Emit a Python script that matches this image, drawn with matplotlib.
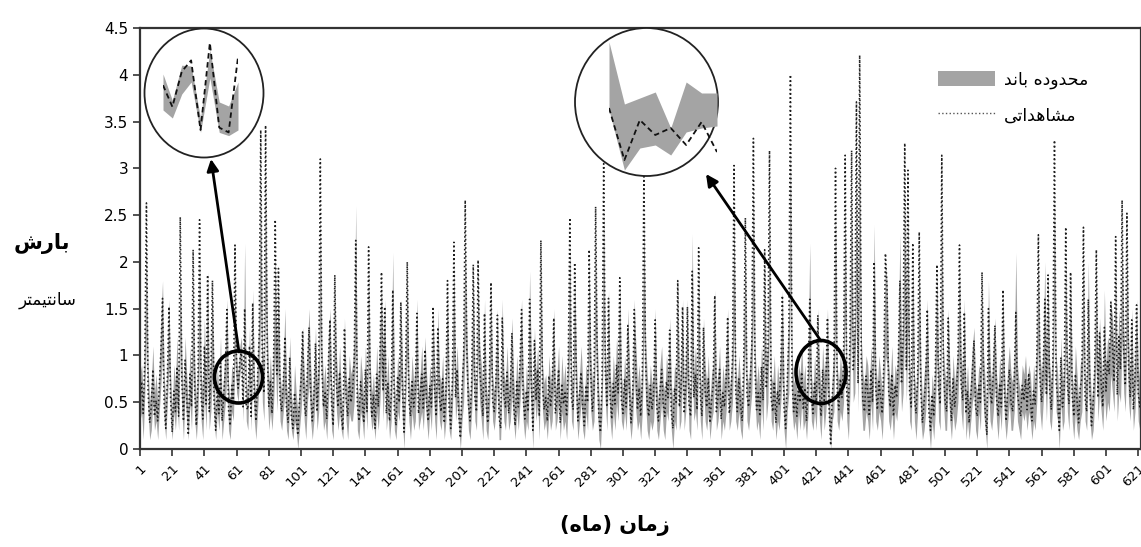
import matplotlib
matplotlib.use("Agg")
import matplotlib.pyplot as plt
from matplotlib.patches import Ellipse, Patch, FancyArrowPatch
from matplotlib.lines import Line2D
import numpy as np

# ---------------- data (monthly precipitation, cm) ----------------
observed = [
 0.55,0.72,0.38,0.95,2.63,0.62,0.28,0.45,0.85,0.35,0.52,0.30,
 0.68,1.05,1.61,0.48,0.22,0.76,1.52,0.55,0.18,0.62,0.40,0.88,
 0.35,2.48,0.72,0.30,0.95,0.58,0.15,0.80,0.45,2.13,0.62,0.25,
 0.70,2.45,0.55,0.32,1.10,0.48,1.86,0.40,0.78,1.80,0.52,0.20,
 0.65,0.38,0.92,0.30,0.58,0.85,1.49,0.42,0.25,0.68,0.50,2.18,
 0.85,0.65,0.95,1.05,0.45,1.50,0.45,0.42,1.10,0.35,1.56,0.58,
 0.30,0.75,1.20,3.41,0.85,0.60,3.46,1.10,0.45,0.72,0.38,0.95,
 2.45,0.80,1.93,0.55,0.40,0.68,1.20,0.45,0.28,0.98,0.35,0.22,
 0.60,0.38,0.15,0.48,0.72,1.25,0.50,0.35,0.85,1.30,0.62,0.30,
 0.55,1.13,0.40,0.78,3.10,0.85,0.45,0.60,0.32,0.92,1.38,0.48,
 0.25,1.86,0.70,0.45,0.82,0.38,0.20,1.29,0.55,0.35,0.75,0.50,
 0.62,0.90,2.23,0.48,0.30,0.72,0.55,0.28,0.85,0.40,2.16,0.65,
 0.35,0.58,0.22,0.80,0.45,0.95,1.89,0.62,1.52,0.38,0.70,0.30,
 0.55,1.70,0.42,0.25,0.78,0.50,1.57,0.65,0.18,0.88,2.00,0.52,
 0.35,0.72,0.45,0.60,1.45,0.38,0.55,0.80,0.42,1.06,0.50,0.30,
 0.68,0.45,1.52,0.62,0.35,1.30,0.55,0.40,0.75,0.28,0.60,1.80,
 0.45,0.22,0.70,2.21,0.55,0.85,0.38,0.12,0.65,0.95,2.66,1.05,
 0.48,0.30,0.72,1.97,0.55,0.40,2.02,0.85,0.62,0.35,1.45,0.48,
 0.28,0.75,1.78,0.52,0.40,0.68,1.43,0.35,0.22,1.40,0.58,0.45,
 0.82,0.38,0.60,1.24,0.50,0.25,0.72,0.45,0.90,1.49,0.55,0.32,
 0.62,0.40,1.60,0.75,0.20,1.16,0.52,0.85,0.35,2.23,0.68,0.42,
 0.55,0.30,0.78,0.45,0.62,1.40,0.38,0.52,0.85,0.28,0.70,0.48,
 0.60,0.35,0.92,2.47,0.55,0.42,1.99,0.75,0.30,0.58,0.82,0.45,
 0.25,0.68,0.50,2.13,0.78,0.40,0.62,2.59,0.95,0.35,0.18,0.72,
 3.05,0.85,0.45,1.61,0.55,0.32,0.70,0.48,0.90,0.60,1.83,0.52,
 0.38,0.75,0.45,1.32,0.62,0.28,0.55,1.49,0.80,0.42,0.65,0.35,
 0.72,2.98,0.95,0.50,0.35,0.68,0.42,0.58,1.38,0.45,0.30,0.62,
 0.85,0.48,0.35,0.72,0.55,1.27,0.40,0.22,0.65,0.50,1.80,0.45,
 0.62,1.52,0.38,0.70,1.52,0.48,0.35,1.90,0.55,0.80,0.42,2.15,
 0.58,0.35,1.30,0.62,0.45,0.75,0.28,0.52,0.68,1.64,0.40,0.55,
 0.85,0.32,0.60,0.45,0.72,1.41,0.38,0.55,0.95,3.03,0.62,0.40,
 0.75,0.48,0.30,0.92,2.47,0.58,0.45,0.70,1.10,3.32,0.85,0.42,
 0.60,0.35,0.88,0.52,2.13,0.65,0.95,3.19,0.55,0.40,0.72,0.28,
 0.62,0.48,0.85,1.64,0.45,0.22,0.70,1.20,4.00,0.75,0.40,0.58,
 0.35,0.68,0.50,0.82,0.42,0.65,0.30,0.78,1.60,0.55,0.38,0.72,
 0.48,1.43,0.62,0.35,0.85,0.52,0.70,1.40,0.45,0.04,0.58,0.80,
 3.00,0.65,0.42,0.75,0.55,0.90,3.14,0.60,0.38,1.20,3.19,0.85,
 1.10,3.71,0.70,4.21,0.95,0.52,0.40,0.78,0.62,0.35,0.85,0.50,
 2.00,0.65,0.42,0.72,0.55,0.38,0.90,2.09,1.73,0.62,0.45,0.80,
 0.35,0.68,0.55,0.95,1.80,0.70,1.20,3.27,0.85,2.98,0.62,0.45,
 2.20,0.55,0.38,0.75,2.32,0.62,0.28,0.50,0.72,1.49,0.40,0.20,
 0.58,0.35,0.80,1.97,0.65,0.48,3.14,0.85,0.52,0.40,1.40,0.62,
 0.30,0.75,0.45,0.60,0.88,2.18,0.70,0.52,1.46,0.38,0.62,0.28,
 0.55,0.82,1.16,0.45,0.35,0.68,0.50,1.89,0.72,0.40,0.15,1.50,
 0.62,0.48,0.80,1.32,0.55,0.35,0.70,0.45,1.70,0.58,0.30,0.65,
 0.85,0.50,0.40,0.72,1.46,0.60,0.45,0.35,0.68,0.52,0.75,0.42,
 0.81,0.55,0.30,0.62,0.48,0.95,2.29,0.75,0.50,0.85,1.60,0.58,
 1.86,0.65,0.42,0.90,3.30,0.72,0.55,0.20,0.98,0.45,0.62,2.37,
 0.70,0.48,1.89,0.58,0.35,0.80,0.52,0.28,0.65,0.75,2.37,0.55,
 0.40,1.60,0.62,0.25,0.48,0.85,2.13,0.55,1.24,0.70,0.45,1.30,
 0.62,0.95,0.80,1.57,1.10,0.72,2.27,0.58,1.20,0.85,2.66,1.05,
 0.68,2.52,0.90,0.55,1.38,0.42,0.75,1.54,0.60,0.45,0.70,0.55,
]

band_upper = [
 0.8,0.9,0.6,1.3,2.2,0.9,0.5,0.7,1.1,0.6,0.8,0.5,
 0.9,1.4,1.8,0.8,0.5,1.0,1.6,0.8,0.4,0.9,0.7,1.2,
 0.6,2.0,1.0,0.5,1.2,0.8,0.4,1.1,0.7,1.8,0.9,0.5,
 1.0,2.1,0.8,0.6,1.4,0.7,1.9,0.7,1.0,1.7,0.8,0.4,
 0.9,0.6,1.2,0.5,0.8,1.1,1.6,0.7,0.5,0.9,0.8,1.9,
 1.0,0.8,1.1,1.2,0.6,2.2,0.7,0.6,1.3,0.6,1.7,0.8,
 0.5,1.0,1.5,2.9,1.1,0.9,3.0,1.4,0.7,1.0,0.6,1.2,
 2.1,1.1,1.8,0.8,0.6,0.9,1.5,0.7,0.5,1.2,0.6,0.4,
 0.9,0.6,0.4,0.7,1.0,1.3,0.8,0.6,1.1,1.5,0.9,0.5,
 0.8,1.3,0.7,1.0,2.5,1.1,0.7,0.9,0.5,1.2,1.5,0.7,
 0.5,1.8,1.0,0.7,1.1,0.6,0.4,1.4,0.8,0.6,1.0,0.8,
 0.9,1.2,2.6,0.7,0.5,1.0,0.8,0.5,1.1,0.7,2.0,0.9,
 0.6,0.8,0.5,1.1,0.7,1.3,1.8,0.9,1.6,0.6,1.0,0.5,
 0.8,2.1,0.7,0.5,1.0,0.8,1.6,0.9,0.4,1.1,1.9,0.8,
 0.6,1.0,0.7,0.9,1.6,0.6,0.8,1.1,0.7,1.2,0.8,0.5,
 0.9,0.7,1.5,0.9,0.6,1.5,0.8,0.7,1.0,0.5,0.9,1.7,
 0.7,0.5,1.0,2.0,0.8,1.1,0.6,0.3,0.9,1.2,2.3,1.3,
 0.7,0.5,1.0,1.9,0.8,0.7,1.9,1.1,0.9,0.6,1.6,0.7,
 0.5,1.0,1.7,0.8,0.6,0.9,1.5,0.6,0.4,1.6,0.8,0.7,
 1.1,0.6,0.9,1.4,0.8,0.5,1.0,0.7,1.1,1.6,0.8,0.5,
 0.9,0.6,1.9,1.0,0.4,1.3,0.8,1.1,0.6,2.1,0.9,0.7,
 0.8,0.5,1.0,0.7,0.9,1.5,0.6,0.8,1.1,0.5,1.0,0.7,
 0.9,0.6,1.2,2.2,0.8,0.7,1.9,1.0,0.5,0.8,1.1,0.7,
 0.5,0.9,0.8,2.0,1.0,0.7,0.9,2.3,1.2,0.6,0.4,1.0,
 2.6,1.1,0.7,1.7,0.8,0.6,1.0,0.7,1.2,0.9,1.8,0.8,
 0.6,1.0,0.7,1.5,0.9,0.5,0.8,1.6,1.1,0.7,0.9,0.6,
 1.0,2.5,1.2,0.8,0.6,0.9,0.7,0.8,1.5,0.7,0.5,0.9,
 1.1,0.7,0.6,1.0,0.8,1.4,0.7,0.5,0.9,0.8,1.8,0.7,
 0.9,1.6,0.6,1.0,1.6,0.7,0.6,2.3,0.8,1.1,0.7,2.0,
 0.8,0.6,1.4,0.9,0.7,1.0,0.5,0.8,0.9,1.7,0.7,0.8,
 1.1,0.5,0.9,0.7,1.0,1.5,0.6,0.8,1.2,2.6,0.9,0.7,
 1.0,0.7,0.5,1.2,2.2,0.8,0.7,1.0,1.4,2.8,1.1,0.7,
 0.9,0.6,1.1,0.8,2.0,0.9,1.2,2.7,0.8,0.7,1.0,0.5,
 0.9,0.7,1.1,1.7,0.7,0.4,1.0,1.5,3.3,1.0,0.7,0.8,
 0.6,0.9,0.8,1.1,0.7,0.9,0.5,1.0,2.2,0.8,0.6,1.0,
 0.7,1.5,0.9,0.6,1.1,0.8,1.0,1.5,0.7,0.3,0.8,1.1,
 2.6,0.9,0.7,1.0,0.8,1.2,2.7,0.9,0.6,1.5,2.8,1.1,
 1.4,3.1,1.0,3.5,1.2,0.8,0.7,1.0,0.9,0.6,1.1,0.8,
 2.4,0.9,0.7,1.0,0.8,0.6,1.2,2.0,1.8,0.9,0.7,1.1,
 0.6,0.9,0.8,1.2,2.3,1.0,1.5,2.8,1.1,2.6,0.9,0.7,
 2.1,0.8,0.6,1.0,2.1,0.9,0.5,0.8,1.0,1.6,0.7,0.4,
 0.8,0.6,1.1,1.9,0.9,0.7,2.7,1.1,0.8,0.7,1.5,0.9,
 0.5,1.0,0.7,0.9,1.1,2.0,1.0,0.8,1.6,0.6,0.9,0.5,
 0.8,1.1,1.3,0.7,0.6,0.9,0.8,1.8,1.0,0.7,0.4,1.8,
 0.9,0.7,1.1,1.4,0.8,0.6,1.0,0.7,1.7,0.8,0.5,0.9,
 1.1,0.8,0.7,1.0,2.1,0.9,0.7,0.6,0.9,0.8,1.0,0.7,
 0.9,0.8,0.5,0.9,0.7,1.2,2.1,1.0,0.8,1.1,2.0,0.8,
 1.9,0.9,0.7,1.2,2.8,1.0,0.8,0.4,1.2,0.7,0.9,2.1,
 1.0,0.7,1.9,0.8,0.6,1.1,0.8,0.5,0.9,1.0,2.1,0.8,
 0.7,2.0,0.9,0.5,0.7,1.1,2.0,0.8,1.4,1.0,0.7,1.7,
 0.9,1.2,1.1,1.6,1.4,1.0,2.1,0.8,1.5,1.1,2.3,1.3,
 0.9,2.2,1.2,0.8,1.5,0.7,1.0,1.6,0.9,0.7,1.0,0.8,
]

band_lower = [
 0.3,0.4,0.1,0.6,1.2,0.4,0.1,0.2,0.5,0.2,0.3,0.1,
 0.4,0.7,1.0,0.3,0.1,0.5,0.9,0.3,0.1,0.4,0.2,0.5,
 0.2,1.1,0.4,0.1,0.6,0.3,0.1,0.5,0.2,0.9,0.3,0.1,
 0.4,1.0,0.3,0.1,0.6,0.2,0.9,0.2,0.4,0.8,0.3,0.1,
 0.4,0.2,0.5,0.1,0.3,0.5,0.8,0.2,0.1,0.4,0.3,1.0,
 0.6,0.5,0.8,0.9,0.3,1.1,0.3,0.2,0.8,0.2,0.9,0.3,
 0.1,0.4,0.7,1.5,0.5,0.3,1.6,0.6,0.2,0.4,0.2,0.5,
 1.0,0.4,0.9,0.3,0.2,0.4,0.6,0.2,0.1,0.5,0.2,0.1,
 0.3,0.2,0.0,0.2,0.4,0.7,0.3,0.1,0.5,0.7,0.3,0.1,
 0.3,0.6,0.2,0.4,1.3,0.5,0.2,0.3,0.1,0.5,0.8,0.2,
 0.1,0.9,0.4,0.2,0.4,0.2,0.1,0.7,0.3,0.1,0.4,0.3,
 0.3,0.5,1.1,0.2,0.1,0.4,0.3,0.1,0.5,0.2,1.0,0.4,
 0.2,0.3,0.1,0.4,0.2,0.5,0.9,0.3,0.8,0.2,0.4,0.1,
 0.3,0.9,0.2,0.1,0.4,0.3,0.8,0.3,0.0,0.5,1.0,0.3,
 0.1,0.4,0.2,0.3,0.8,0.2,0.3,0.4,0.2,0.6,0.3,0.1,
 0.4,0.2,0.8,0.3,0.1,0.7,0.3,0.2,0.4,0.1,0.3,0.9,
 0.2,0.1,0.4,1.0,0.3,0.5,0.2,0.0,0.3,0.5,1.2,0.6,
 0.2,0.1,0.4,0.9,0.3,0.2,1.0,0.5,0.3,0.1,0.7,0.2,
 0.1,0.4,0.9,0.3,0.2,0.4,0.7,0.1,0.1,0.7,0.3,0.2,
 0.5,0.2,0.3,0.6,0.3,0.1,0.4,0.2,0.5,0.8,0.3,0.1,
 0.3,0.2,0.8,0.4,0.0,0.6,0.3,0.5,0.1,1.1,0.4,0.2,
 0.3,0.1,0.4,0.2,0.3,0.7,0.2,0.3,0.5,0.1,0.4,0.2,
 0.3,0.1,0.5,1.1,0.3,0.2,1.0,0.4,0.1,0.3,0.5,0.2,
 0.1,0.4,0.2,1.0,0.4,0.2,0.3,1.2,0.5,0.1,0.0,0.4,
 1.3,0.5,0.2,0.8,0.3,0.1,0.4,0.2,0.5,0.3,0.9,0.3,
 0.2,0.4,0.2,0.7,0.3,0.1,0.3,0.8,0.4,0.2,0.3,0.1,
 0.4,1.3,0.5,0.2,0.1,0.3,0.2,0.3,0.7,0.2,0.1,0.3,
 0.5,0.2,0.1,0.4,0.3,0.7,0.2,0.0,0.3,0.2,0.9,0.2,
 0.3,0.8,0.2,0.4,0.8,0.2,0.1,0.9,0.3,0.4,0.2,1.0,
 0.3,0.1,0.7,0.3,0.2,0.4,0.1,0.3,0.4,0.8,0.2,0.3,
 0.5,0.1,0.3,0.2,0.4,0.7,0.2,0.3,0.5,1.3,0.3,0.2,
 0.4,0.2,0.1,0.5,1.1,0.3,0.2,0.4,0.6,1.5,0.5,0.2,
 0.3,0.1,0.5,0.2,1.0,0.3,0.5,1.4,0.3,0.2,0.4,0.1,
 0.3,0.2,0.5,0.8,0.2,0.0,0.4,0.6,1.8,0.4,0.2,0.3,
 0.1,0.4,0.2,0.5,0.2,0.3,0.1,0.4,0.9,0.3,0.2,0.4,
 0.2,0.7,0.3,0.1,0.5,0.2,0.4,0.7,0.2,0.0,0.3,0.4,
 1.3,0.3,0.2,0.4,0.3,0.5,1.4,0.3,0.1,0.6,1.4,0.5,
 0.6,1.7,0.4,1.9,0.5,0.2,0.2,0.4,0.3,0.1,0.5,0.2,
 1.0,0.3,0.2,0.4,0.3,0.1,0.5,1.0,0.9,0.3,0.2,0.4,
 0.1,0.4,0.3,0.5,0.9,0.4,0.6,1.5,0.5,1.3,0.3,0.2,
 1.0,0.3,0.1,0.4,1.1,0.3,0.1,0.2,0.4,0.8,0.2,0.0,
 0.3,0.1,0.4,1.0,0.3,0.2,1.4,0.5,0.2,0.2,0.7,0.3,
 0.1,0.4,0.2,0.3,0.5,1.0,0.4,0.2,0.7,0.1,0.3,0.1,
 0.3,0.5,0.6,0.2,0.1,0.4,0.2,0.9,0.4,0.2,0.0,0.7,
 0.3,0.2,0.4,0.7,0.3,0.1,0.4,0.2,0.8,0.3,0.1,0.3,
 0.5,0.2,0.2,0.4,0.8,0.3,0.2,0.1,0.4,0.3,0.4,0.2,
 0.4,0.3,0.1,0.3,0.2,0.5,1.1,0.4,0.2,0.5,0.8,0.3,
 0.9,0.3,0.2,0.5,1.5,0.4,0.3,0.0,0.5,0.2,0.3,1.1,
 0.4,0.2,0.9,0.3,0.1,0.4,0.2,0.1,0.3,0.4,1.1,0.3,
 0.2,0.8,0.3,0.1,0.2,0.5,1.0,0.3,0.6,0.4,0.2,0.6,
 0.3,0.5,0.4,0.8,0.6,0.4,1.1,0.3,0.6,0.5,1.2,0.6,
 0.4,1.2,0.5,0.3,0.7,0.2,0.4,0.8,0.3,0.2,0.4,0.3,
]

months = np.arange(1, len(observed) + 1)
x_ticks = list(range(1, 622, 20))
y_ticks = [0, 0.5, 1, 1.5, 2, 2.5, 3, 3.5, 4, 4.5]
y_tick_labels = ["0", "0.5", "1", "1.5", "2", "2.5", "3", "3.5", "4", "4.5"]

# zoomed inset views (relative units inside each circle)
inset1_obs = [0.81, 0.54, 0.98, 1.12, 0.25, 1.34, 0.28, 0.22, 1.16]
inset1_high = [0.95, 0.62, 1.06, 1.05, 0.40, 1.25, 0.60, 0.55, 0.85]
inset1_low = [0.50, 0.40, 0.70, 0.85, 0.22, 0.90, 0.22, 0.18, 0.25]

inset2_obs = [0.82, 0.30, 0.70, 0.55, 0.62, 0.45, 0.68, 0.38]
inset2_high = [1.48, 0.86, 0.92, 0.98, 0.62, 1.08, 0.97, 0.97]
inset2_low = [0.80, 0.20, 0.42, 0.45, 0.35, 0.58, 0.62, 0.64]

# Persian text (presentation forms, visual order)
ylabel_main = "\uFEB5\uFEAD\uFE8E\uFE91"                      # بارش
ylabel_unit = "\uFEAE\uFE98\uFEE4\uFEF4\uFE98\uFEE7\uFE8E\uFEB3"  # سانتیمتر
xlabel_txt = "(\uFEE9\uFE8E\uFEE3) \uFEE5\uFE8E\uFEE3\uFEAF"    # زمان (ماه)
legend_band = "\uFEAA\uFEE7\uFE8E\uFE91 \uFEE9\uFEA9\uFEED\uFEAA\uFEA4\uFEE3"  # محدوده باند
legend_obs = "\uFEF0\uFE97\uFE8D\uFEAA\uFEEB\uFE8E\uFEB8\uFEE3"   # مشاهداتی

# ---------------- figure ----------------
W, H = 1141, 547
fig = plt.figure(figsize=(W / 100, H / 100), dpi=100)
plt.rcParams['font.family'] = ['DejaVu Sans']

def fx(px):
    return px / W

def fy(py):
    return 1 - py / H

ax = fig.add_axes([fx(140), fy(449), fx(1141) - fx(140), fy(28) - fy(449)])
band_color = '#a4a4a4'
ax.fill_between(months, band_lower, band_upper, color=band_color, lw=0)
ax.plot(months, observed, color='#1e1e1e', ls=':', lw=1.15)

ax.set_xlim(1, 1 + 1001 / 1.61)
ax.set_ylim(0, 4.5)
ax.set_xticks(x_ticks)
ax.set_xticklabels([str(t) for t in x_ticks], rotation=45, ha='right',
                   va='top', rotation_mode='anchor', fontsize=9.5)
ax.set_yticks(y_ticks)
ax.set_yticklabels(y_tick_labels, fontsize=11)
ax.tick_params(axis='both', direction='out', length=5, width=1.2, color='#333333')
ax.tick_params(axis='x', pad=4)
for s in ax.spines.values():
    s.set_linewidth(1.6)
    s.set_color('#333333')

handles = [Patch(facecolor=band_color, edgecolor='none'),
           Line2D([0], [0], color='#555555', ls=':', lw=1.0)]
leg = ax.legend(handles, [legend_band, legend_obs], loc='upper left',
                bbox_to_anchor=((922 - 140) / 1001, (449 - 55) / 421),
                frameon=False, fontsize=12.5, handlelength=3.3, handleheight=1.0,
                labelspacing=1.0, handletextpad=0.5)

# axis labels
fig.text(fx(42), fy(243), ylabel_main, fontsize=15, fontweight='bold',
         ha='center', va='center')
fig.text(fx(48), fy(300), ylabel_unit, fontsize=12, ha='center', va='center')
fig.text(fx(615), fy(525), xlabel_txt, fontsize=15, fontweight='bold',
         ha='center', va='center')

# ---- big circles (white filled) ----
c1 = Ellipse((fx(204), fy(93)), fx(119), 129 / H, transform=fig.transFigure,
             facecolor='white', edgecolor='#222222', lw=1.3, zorder=2)
c2 = Ellipse((fx(646.5), fy(102)), fx(143), 148 / H, transform=fig.transFigure,
             facecolor='white', edgecolor='#222222', lw=1.3, zorder=2)
fig.patches.extend([c1, c2])

# inset 1 content
ia1 = fig.add_axes([fx(163), fy(150), fx(238) - fx(163), fy(30) - fy(150)], zorder=3)
ia1.set_axis_off()
ia1.patch.set_alpha(0)
ix1 = np.arange(len(inset1_obs))
ia1.fill_between(ix1, inset1_low, inset1_high, color=band_color, lw=0)
ia1.plot(ix1, inset1_obs, color='#111111', ls=(0, (3, 2)), lw=1.3)
ia1.set_xlim(0, len(inset1_obs) - 1)
ia1.set_ylim(0, 1.5)

# inset 2 content
ia2 = fig.add_axes([fx(609), fy(190), fx(717) - fx(609), fy(30) - fy(190)], zorder=3)
ia2.set_axis_off()
ia2.patch.set_alpha(0)
ix2 = np.arange(len(inset2_obs))
ia2.fill_between(ix2, inset2_low, inset2_high, color=band_color, lw=0)
ia2.plot(ix2, inset2_obs, color='#111111', ls=(0, (3, 2)), lw=1.3)
ia2.set_xlim(0, len(inset2_obs) - 1)
ia2.set_ylim(0, 1.6)

# ---- small circles ----
s1 = Ellipse((fx(238.5), fy(377)), fx(48), 52 / H, transform=fig.transFigure,
             facecolor='none', edgecolor='black', lw=2.6, zorder=4)
s2 = Ellipse((fx(821), fy(372)), fx(50), 63 / H, transform=fig.transFigure,
             facecolor='none', edgecolor='black', lw=2.6, zorder=4)
fig.patches.extend([s1, s2])

# ---- arrows ----
a1 = FancyArrowPatch((fx(239), fy(352)), (fx(211), fy(159)),
                     transform=fig.transFigure, arrowstyle='-|>,head_length=7,head_width=3.5',
                     color='black', lw=2.0, zorder=4, shrinkA=0, shrinkB=0)
a2 = FancyArrowPatch((fx(821), fy(341)), (fx(706), fy(174)),
                     transform=fig.transFigure, arrowstyle='-|>,head_length=7,head_width=3.5',
                     color='black', lw=2.0, zorder=4, shrinkA=0, shrinkB=0)
fig.patches.extend([a1, a2])

fig.savefig('out.png', dpi=100)
